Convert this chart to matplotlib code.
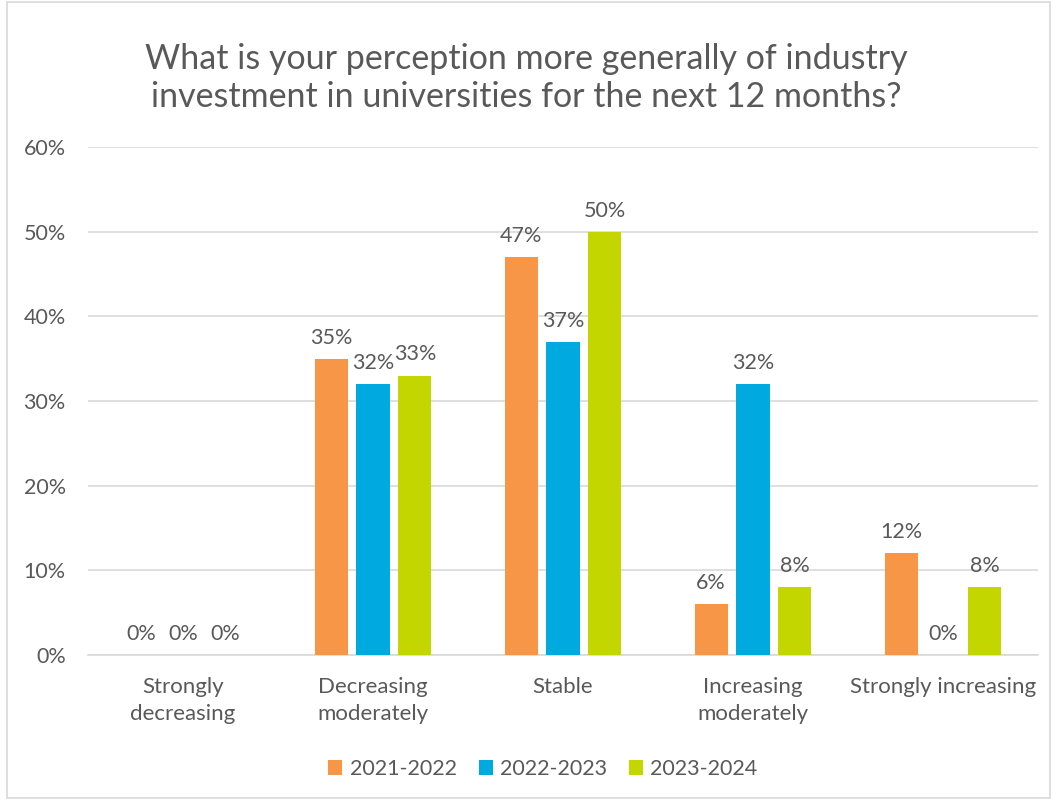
import matplotlib
matplotlib.use("Agg")
import matplotlib.pyplot as plt
import numpy as np
from matplotlib.patches import Rectangle

categories = ["Strongly\ndecreasing", "Decreasing\nmoderately", "Stable", "Increasing\nmoderately", "Strongly increasing"]
series_names = ["2021-2022", "2022-2023", "2023-2024"]
s2021 = [0, 35, 47, 6, 12]
s2022 = [0, 32, 37, 32, 0]
s2023 = [0, 33, 50, 8, 8]
colors = ["#F79646", "#00A9E0", "#C4D600"]
yticks = [0, 10, 20, 30, 40, 50, 60]

plt.rcParams['font.family'] = ['Lato', 'DejaVu Sans']
txt = "#595959"

fig = plt.figure(figsize=(10.52, 8), dpi=100)
ax = fig.add_axes([88/1052, 1-655/800, 950/1052, (655-147)/800])

x = np.arange(len(categories))
w = 0.175
off = 0.22
for i, (vals, c, name) in enumerate(zip([s2021, s2022, s2023], colors, series_names)):
    xs = x + (i-1)*off
    ax.bar(xs, [v/100 for v in vals], width=w, color=c, label=name, zorder=3)
    for xi, v in zip(xs, vals):
        ax.annotate(f"{v}%", (xi, v/100), xytext=(0, 8), textcoords="offset points",
                    ha="center", va="bottom", fontsize=15.5, color=txt)

ax.set_xlim(-0.5, 4.5)
ax.set_ylim(0, 0.6)
ax.set_yticks([t/100 for t in yticks])
ax.set_yticklabels([f"{t}%" for t in yticks], fontsize=15.5, color=txt)
ax.set_xticks(x)
ax.set_xticklabels(categories, fontsize=16, color=txt, linespacing=1.4)
ax.tick_params(axis='y', length=0, pad=16)
ax.tick_params(axis='x', length=0, pad=16)
ax.grid(axis='y', color='#D9D9D9', linewidth=1.2, zorder=0)
for s in ['top', 'right', 'left']:
    ax.spines[s].set_visible(False)
ax.spines['bottom'].set_color('#D9D9D9')
ax.spines['bottom'].set_linewidth(1.2)

fig.text(0.5, 1-78/800, "What is your perception more generally of industry\ninvestment in universities for the next 12 months?",
         ha="center", va="center", fontsize=24.5, color=txt, linespacing=1.25)

leg = fig.legend(loc="center", bbox_to_anchor=(543/1052, 1-769/800), ncol=3, frameon=False,
                 fontsize=15.5, handlelength=0.65, handleheight=0.65, columnspacing=1.0, handletextpad=0.35)
for t in leg.get_texts():
    t.set_color(txt)

fig.patches.append(Rectangle((7/1052, 0.002), 1-9/1052, 0.995, transform=fig.transFigure,
                             fill=False, edgecolor='#D9D9D9', linewidth=1.2))

fig.savefig("out.png", dpi=100)
